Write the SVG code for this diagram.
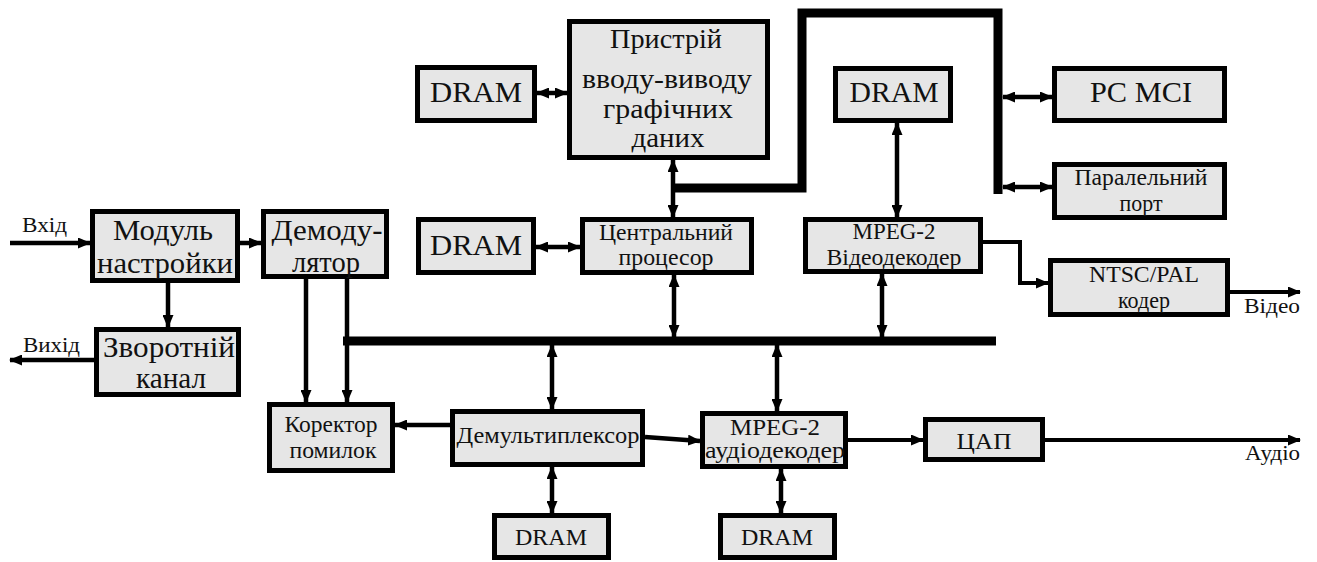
<svg xmlns="http://www.w3.org/2000/svg" width="1317" height="562" viewBox="0 0 1317 562">
<style>
.box{fill:#e6e6e6;stroke:#000;stroke-width:5}
text{font-family:"Liberation Serif","DejaVu Serif","Times New Roman",serif;fill:#111;text-anchor:middle}
.b{font-size:30px}
.m{font-size:28px}
.s{font-size:23px}
.l{font-size:21px;text-anchor:start}
.c{fill:none;stroke:#000;stroke-width:4.5}
.t{fill:none;stroke:#000;stroke-width:4}
.bus{fill:none;stroke:#000;stroke-width:9;stroke-linejoin:miter}
.a{marker-end:url(#ah)}
.d{marker-start:url(#ah);marker-end:url(#ah)}
</style>
<defs>
<marker id="ah" markerUnits="userSpaceOnUse" markerWidth="13" markerHeight="11" refX="12" refY="5.5" orient="auto-start-reverse"><path d="M0,0 L13,5.5 L0,11 z" fill="#000"/></marker>
</defs>
<g id="connectors">
<path class="bus" d="M673,188 H802 V13 H998 V194"/>
<path class="bus" d="M343,341 H996"/>
<path class="c a" d="M10,243 H90"/>
<path class="c a" d="M240,243 H261"/>
<path class="c a" d="M168,283 V327"/>
<path class="c a" d="M94,360 H10"/>
<path class="c a" d="M306,279 V402"/>
<path class="c a" d="M347,279 V402"/>
<path class="c d" d="M537,93 H567"/>
<path class="c d" d="M673,160 V217"/>
<path class="c d" d="M536,247 H580"/>
<path class="c d" d="M1003,97 H1052"/>
<path class="c d" d="M1003,187 H1052"/>
<path class="c d" d="M897,123 V217"/>
<path class="c d" d="M674,275 V337"/>
<path class="c d" d="M882,274 V337"/>
<path class="c d" d="M552,345 V409"/>
<path class="c d" d="M777,345 V411"/>
<path class="c d" d="M552,467 V513"/>
<path class="c d" d="M781,469 V513"/>
<path class="c a" d="M450,425 H395"/>
<path class="c a" d="M645,437 L700,441"/>
<path class="t a" d="M983,242 H1020 V283 H1048"/>
<path class="t a" d="M1230,292 H1300"/>
<path class="t a" d="M848,440 H923"/>
<path class="t a" d="M1045,440 H1300"/>
</g>
<g id="in-label"><text class="l" x="22" y="232" textLength="45" lengthAdjust="spacingAndGlyphs">Вхід</text></g>
<g id="out-label"><text class="l" x="23" y="352" textLength="57" lengthAdjust="spacingAndGlyphs">Вихід</text></g>
<g id="video-label"><text class="l" x="1244" y="313" textLength="56" lengthAdjust="spacingAndGlyphs">Відео</text></g>
<g id="audio-label"><text class="l" x="1245" y="460" textLength="55" lengthAdjust="spacingAndGlyphs">Аудіо</text></g>
<g id="tuner"><rect class="box" x="92.5" y="211.5" width="145" height="69"/><text class="b" x="163" y="240" textLength="100" lengthAdjust="spacingAndGlyphs">Модуль</text><text class="b" x="165" y="273" textLength="136" lengthAdjust="spacingAndGlyphs">настройки</text></g>
<g id="demod"><rect class="box" x="263.5" y="211.5" width="123" height="65"/><text class="b" x="327" y="240" textLength="111" lengthAdjust="spacingAndGlyphs">Демоду-</text><text class="b" x="326" y="272" textLength="68" lengthAdjust="spacingAndGlyphs">лятор</text></g>
<g id="return"><rect class="box" x="96.5" y="329.5" width="142" height="65"/><text class="b" x="169" y="357" textLength="132" lengthAdjust="spacingAndGlyphs">Зворотній</text><text class="b" x="171" y="388" textLength="70" lengthAdjust="spacingAndGlyphs">канал</text></g>
<g id="dram1"><rect class="box" x="417.5" y="67.5" width="117" height="53"/><text class="b" x="476" y="102" textLength="92" lengthAdjust="spacingAndGlyphs">DRAM</text></g>
<g id="graphics"><rect class="box" x="569.5" y="21.5" width="198" height="136"/><text class="m" x="666" y="48" textLength="112" lengthAdjust="spacingAndGlyphs">Пристрій</text><text class="m" x="667" y="88" textLength="170" lengthAdjust="spacingAndGlyphs">вводу-виводу</text><text class="m" x="668" y="118" textLength="130" lengthAdjust="spacingAndGlyphs">графічних</text><text class="m" x="668" y="147" textLength="73" lengthAdjust="spacingAndGlyphs">даних</text></g>
<g id="dram-video"><rect class="box" x="835.5" y="68.5" width="115" height="52"/><text class="b" x="894" y="102" textLength="89" lengthAdjust="spacingAndGlyphs">DRAM</text></g>
<g id="pcmci"><rect class="box" x="1054.5" y="68.5" width="170" height="52"/><text class="b" x="1141" y="102" textLength="102" lengthAdjust="spacingAndGlyphs">PC MCI</text></g>
<g id="parallel"><rect class="box" x="1054.5" y="164.5" width="170" height="53"/><text class="s" x="1141" y="185" textLength="133" lengthAdjust="spacingAndGlyphs">Паралельний</text><text class="s" x="1141" y="211" textLength="43" lengthAdjust="spacingAndGlyphs">порт</text></g>
<g id="dram2"><rect class="box" x="418.5" y="219.5" width="115" height="53"/><text class="b" x="476" y="255" textLength="92" lengthAdjust="spacingAndGlyphs">DRAM</text></g>
<g id="cpu"><rect class="box" x="582.5" y="219.5" width="169" height="53"/><text class="s" x="666" y="240" textLength="134" lengthAdjust="spacingAndGlyphs">Центральний</text><text class="s" x="666" y="265" textLength="95" lengthAdjust="spacingAndGlyphs">процесор</text></g>
<g id="mpeg-video"><rect class="box" x="805.5" y="219.5" width="175" height="52"/><text class="s" x="894" y="239" textLength="83" lengthAdjust="spacingAndGlyphs">MPEG-2</text><text class="s" x="894" y="265" textLength="135" lengthAdjust="spacingAndGlyphs">Відеодекодер</text></g>
<g id="ntsc"><rect class="box" x="1050.5" y="260.5" width="177" height="54"/><text class="s" x="1144" y="282" textLength="110" lengthAdjust="spacingAndGlyphs">NTSC/PAL</text><text class="s" x="1144" y="308" textLength="52" lengthAdjust="spacingAndGlyphs">кодер</text></g>
<g id="corrector"><rect class="box" x="269.5" y="404.5" width="123" height="66"/><text class="s" x="331" y="432" textLength="93" lengthAdjust="spacingAndGlyphs">Коректор</text><text class="s" x="333" y="458" textLength="87" lengthAdjust="spacingAndGlyphs">помилок</text></g>
<g id="demux"><rect class="box" x="452.5" y="411.5" width="190" height="53"/><text class="s" x="548" y="443" textLength="183" lengthAdjust="spacingAndGlyphs">Демультиплексор</text></g>
<g id="mpeg-audio"><rect class="box" x="702.5" y="413.5" width="143" height="53"/><text class="s" x="775" y="435" textLength="90" lengthAdjust="spacingAndGlyphs">MPEG-2</text><text class="s" x="775" y="458" textLength="140" lengthAdjust="spacingAndGlyphs">аудіодекодер</text></g>
<g id="dac"><rect class="box" x="925.5" y="419.5" width="117" height="40"/><text class="s" x="984" y="449" textLength="55" lengthAdjust="spacingAndGlyphs">ЦАП</text></g>
<g id="dram3"><rect class="box" x="494.5" y="515.5" width="114" height="42"/><text class="s" x="551" y="545" textLength="72" lengthAdjust="spacingAndGlyphs">DRAM</text></g>
<g id="dram4"><rect class="box" x="720.5" y="515.5" width="114" height="42"/><text class="s" x="777" y="545" textLength="72" lengthAdjust="spacingAndGlyphs">DRAM</text></g>
</svg>
